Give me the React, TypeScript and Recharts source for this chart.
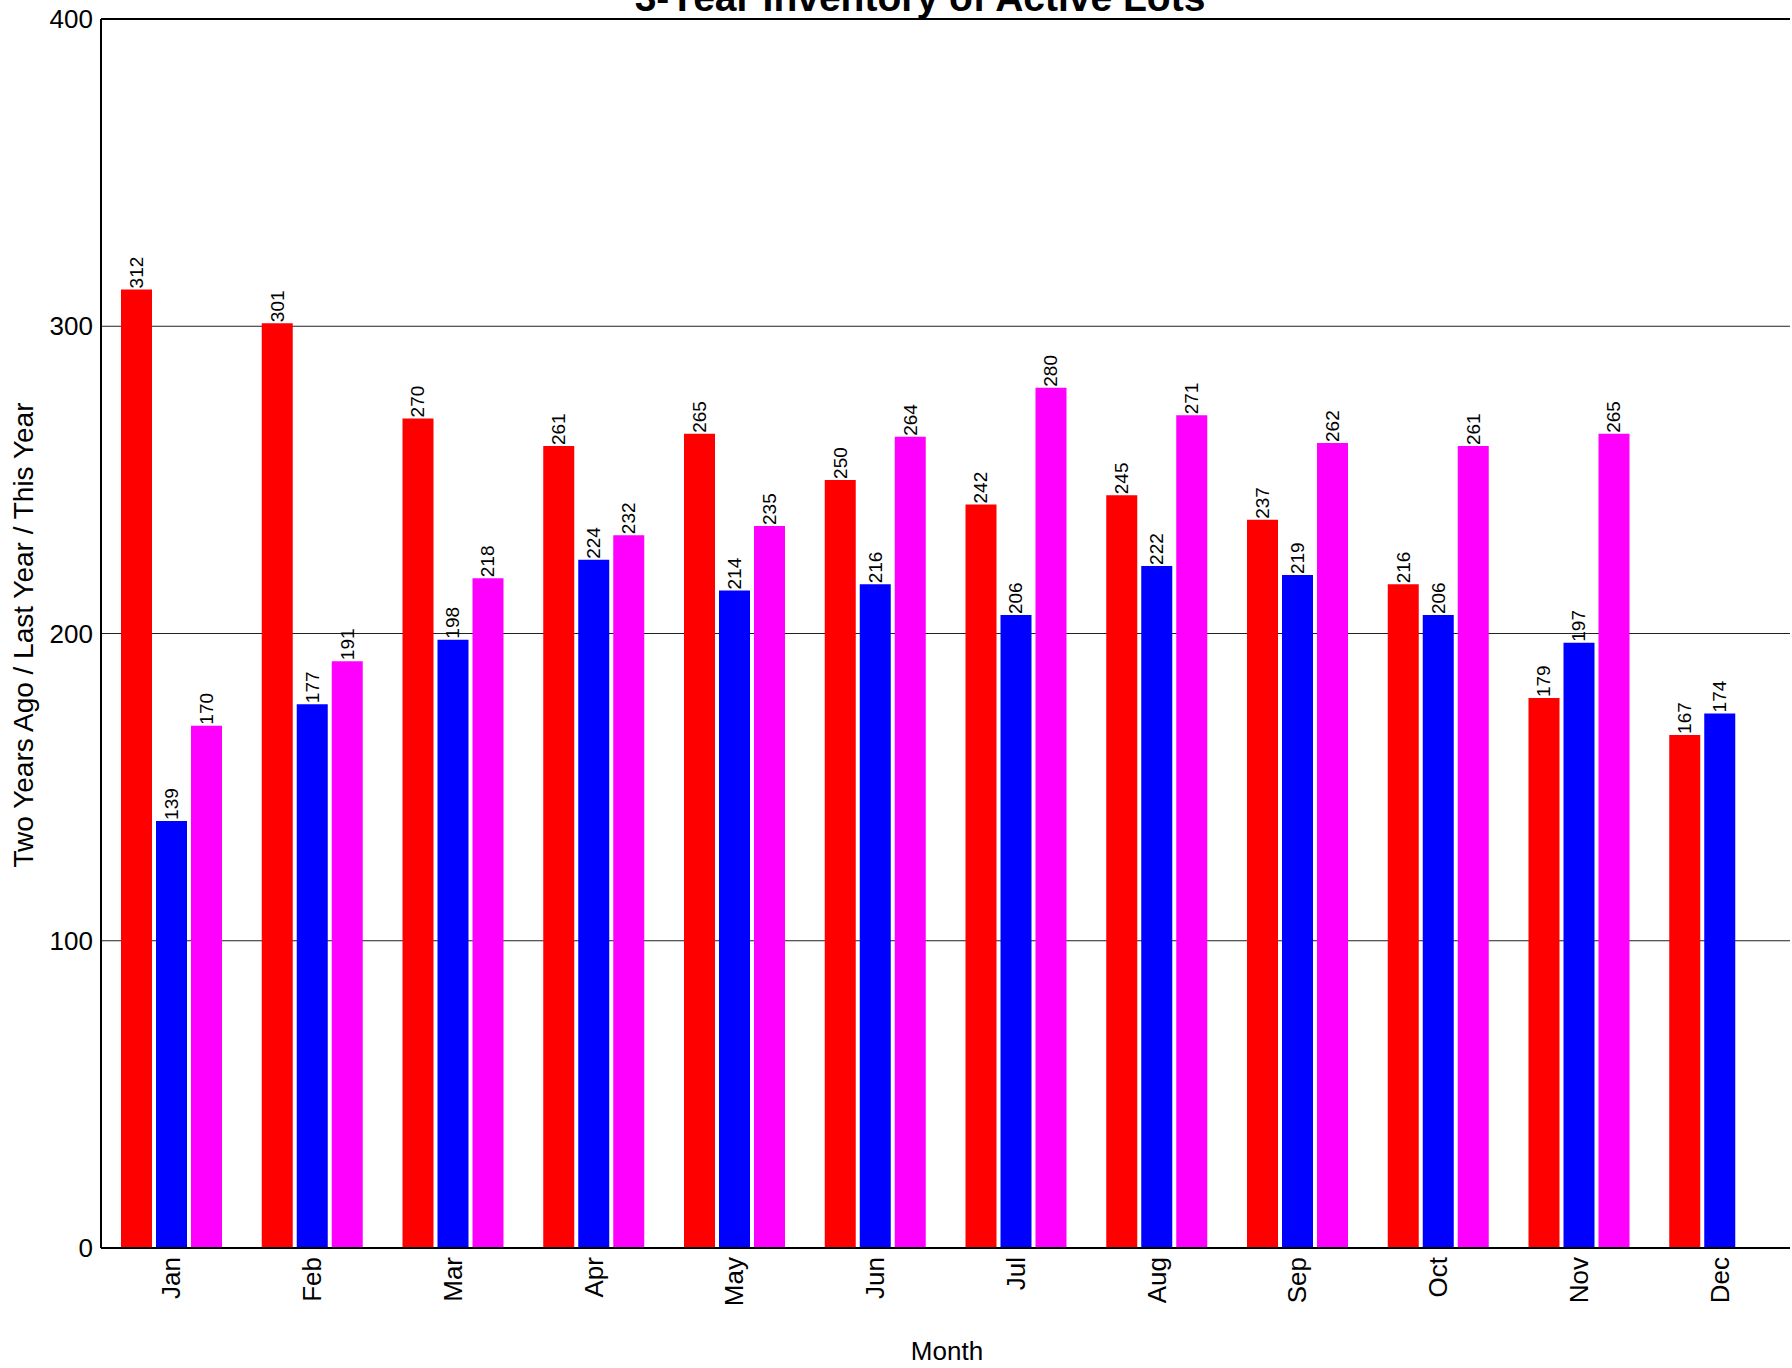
import React from 'react'
import { BarChart, Bar, XAxis, YAxis, CartesianGrid, ReferenceLine, LabelList } from 'recharts'

const months = ['Jan', 'Feb', 'Mar', 'Apr', 'May', 'Jun', 'Jul', 'Aug', 'Sep', 'Oct', 'Nov', 'Dec']
const twoYearsAgo = [312, 301, 270, 261, 265, 250, 242, 245, 237, 216, 179, 167]
const lastYear = [139, 177, 198, 224, 214, 216, 206, 222, 219, 206, 197, 174]
const thisYear: (number | null)[] = [170, 191, 218, 232, 235, 264, 280, 271, 262, 261, 265, null]
const yTicks = [0, 100, 200, 300, 400]

const FONT = '"Liberation Sans", Arial, Helvetica, sans-serif'

const data = months.map((m, i) => ({
  month: m,
  twoYearsAgo: twoYearsAgo[i],
  lastYear: lastYear[i],
  thisYear: thisYear[i],
}))

// rotated value sitting right on top of each bar
const renderValue = (props: any) => {
  const { x, y, width, value } = props
  if (value === null || value === undefined) return null
  const cx = Number(x) + Number(width) / 2
  const ty = Number(y) - 1
  return (
    <text x={cx} y={ty} transform={`rotate(-90, ${cx}, ${ty})`} textAnchor="start"
      dominantBaseline="central" fontSize={19} fontFamily={FONT} fill="#000">
      {value}
    </text>
  )
}

const MonthTick = (props: any) => {
  const { x, y, payload } = props
  const ty = Number(y) + 1
  return (
    <text x={x} y={ty} transform={`rotate(-90, ${x}, ${ty})`} textAnchor="end"
      dominantBaseline="central" fontSize={26} fontFamily={FONT} fill="#000">
      {payload.value}
    </text>
  )
}

export default function App() {
  return (
    <div style={{ position: 'absolute', left: 0, top: 0, width: 1792, height: 1368, overflow: 'hidden', background: '#fff', fontFamily: FONT }}>
      <BarChart width={1792} height={1368} data={data}
        margin={{ top: 19, right: 2, left: 0, bottom: 0 }}
        barCategoryGap={20} barGap={4}>
        <CartesianGrid vertical={false} stroke="#222" strokeWidth={1} />
        <XAxis dataKey="month" height={120} tickLine={false} interval={0}
          axisLine={{ stroke: '#000', strokeWidth: 2 }} tick={<MonthTick />} />
        <YAxis width={101} domain={[0, 400]} ticks={yTicks} interval={0} tickLine={false}
          axisLine={{ stroke: '#000', strokeWidth: 2 }}
          tick={{ fontSize: 26, fill: '#000', fontFamily: FONT }} />
        <ReferenceLine y={400} stroke="#000" strokeWidth={2} />
        <Bar dataKey="twoYearsAgo" name="Two Years Ago" fill="#ff0000" isAnimationActive={false}>
          <LabelList dataKey="twoYearsAgo" content={renderValue} />
        </Bar>
        <Bar dataKey="lastYear" name="Last Year" fill="#0000ff" isAnimationActive={false}>
          <LabelList dataKey="lastYear" content={renderValue} />
        </Bar>
        <Bar dataKey="thisYear" name="This Year" fill="#ff00ff" isAnimationActive={false}>
          <LabelList dataKey="thisYear" content={renderValue} />
        </Bar>
      </BarChart>
      <svg width={1792} height={1368} style={{ position: 'absolute', left: 0, top: 0, pointerEvents: 'none' }}>
        <text x={920} y={11} textAnchor="middle" fontSize={39} fontWeight="bold" fontFamily={FONT} fill="#000">
          3-Year Inventory of Active Lots
        </text>
        <text x={33} y={635} transform="rotate(-90, 33, 635)" textAnchor="middle" fontSize={28} fontFamily={FONT} fill="#000">
          Two Years Ago / Last Year / This Year
        </text>
        <text x={947} y={1360} textAnchor="middle" fontSize={26} fontFamily={FONT} fill="#000">
          Month
        </text>
      </svg>
    </div>
  )
}
